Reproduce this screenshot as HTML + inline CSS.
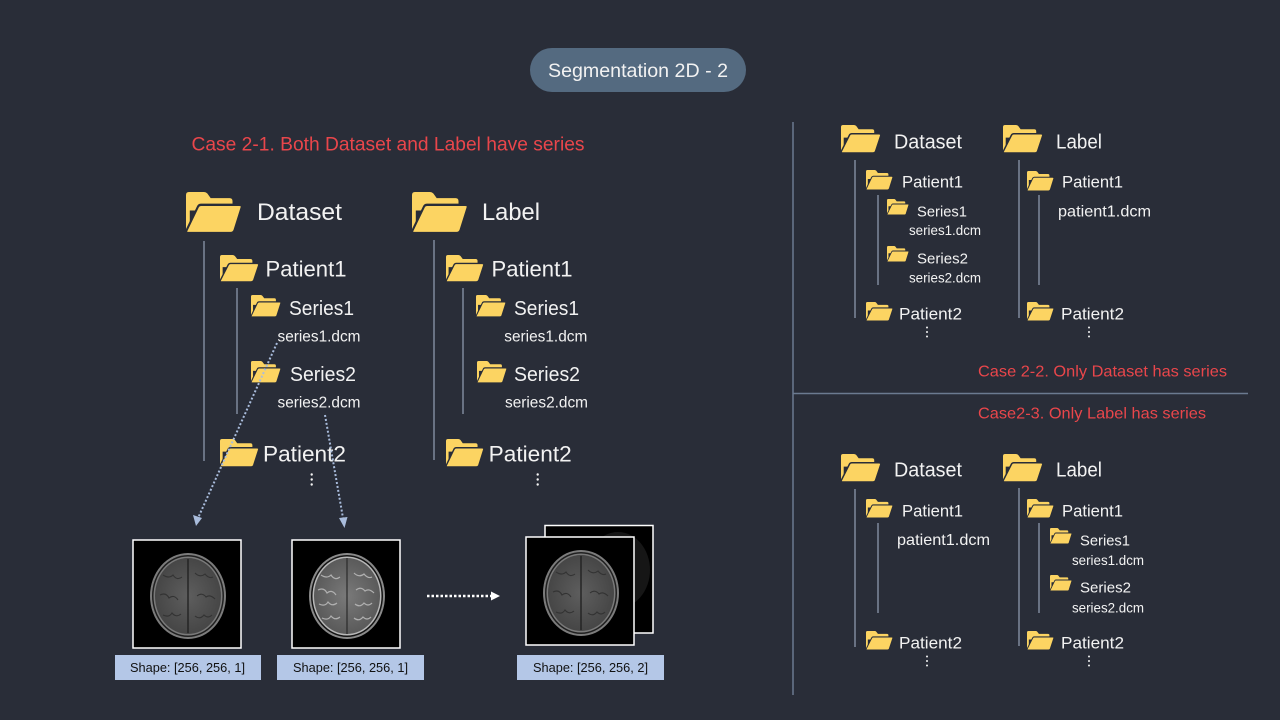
<!DOCTYPE html>
<html><head><meta charset="utf-8"><style>
html,body{margin:0;padding:0;background:#292d38;}
svg{display:block;}
text{font-family:"Liberation Sans","Noto Sans CJK KR",sans-serif;fill:#f2f2f2;}
.r{fill:#e9464b;}
.k{fill:#111;}
</style></head><body>
<svg width="1280" height="720" viewBox="0 0 1280 720" xmlns="http://www.w3.org/2000/svg">
<defs>
<symbol id="f" viewBox="0 0 59 40" preserveAspectRatio="none">
<path d="M3,0 H19 Q21,0 22.5,1.5 L26,6 H46 Q49,6 49,9 V18 H4 V40 H3 Q0,40 0,37 V3 Q0,0 3,0Z" fill="#fcd462"/>
<path d="M12.5,14.5 Q13.5,12.5 16,12.5 H56 Q59.5,12.5 58.5,15.5 L51,37.5 Q50,40 47,40 H2 Q-0.5,40 0.5,37.5 Z" fill="#fcd462" stroke="#292d38" stroke-width="2.2"/>
</symbol>
<radialGradient id="g1" cx="50%" cy="50%" r="50%">
<stop offset="0" stop-color="#5e5e5e"/><stop offset="1" stop-color="#464646"/>
</radialGradient>
<radialGradient id="g2" cx="50%" cy="50%" r="50%">
<stop offset="0" stop-color="#7a7a7a"/><stop offset="1" stop-color="#5a5a5a"/>
</radialGradient>
<g id="b1">
<rect x="0" y="0" width="108" height="108" fill="#000"/>
<ellipse cx="55" cy="56" rx="38" ry="43" fill="#7c7c7c"/>
<ellipse cx="55" cy="56" rx="36" ry="41" fill="#202020"/>
<ellipse cx="55" cy="56" rx="34.5" ry="39.5" fill="#7a7a7a"/>
<ellipse cx="55" cy="56" rx="33" ry="38" fill="url(#g1)"/>
<g stroke="#333" stroke-width="1.1" fill="none">
<path d="M30,35 q6,4 10,0 q4,6 9,2"/><path d="M62,33 q5,5 10,1 q4,5 8,3"/>
<path d="M27,55 q6,-3 9,3 q5,-4 9,2"/><path d="M64,56 q5,-4 9,1 q4,-3 9,2"/>
<path d="M30,75 q6,3 9,-2 q4,5 9,1"/><path d="M62,76 q5,4 9,-1 q4,4 8,0"/>
</g>
<line x1="55" y1="19" x2="55" y2="93" stroke="#1e1e1e" stroke-width="1.3"/>
</g>
<g id="b2">
<rect x="0" y="0" width="108" height="108" fill="#000"/>
<ellipse cx="55" cy="56" rx="38" ry="43" fill="#8a8a8a"/>
<ellipse cx="55" cy="56" rx="36" ry="41" fill="#141414"/>
<ellipse cx="55" cy="56" rx="34.5" ry="39.5" fill="#b8b8b8"/>
<ellipse cx="55" cy="56" rx="33" ry="38" fill="url(#g2)"/>
<g stroke="#b0b0b0" stroke-width="1.2" fill="none">
<path d="M29,35 q6,4 10,0 q4,6 9,2"/><path d="M62,33 q5,5 10,1 q4,5 8,3"/>
<path d="M26,50 q6,-3 9,3 q5,-4 9,2"/><path d="M64,50 q5,-4 9,1 q4,-3 9,2"/>
<path d="M27,64 q6,3 9,-2 q4,5 9,1"/><path d="M63,64 q5,4 9,-1 q4,4 8,0"/>
<path d="M30,78 q6,3 9,-2 q4,5 9,1"/><path d="M62,78 q5,4 9,-1 q4,4 8,0"/>
</g>
<line x1="55" y1="18" x2="55" y2="94" stroke="#2a2a2a" stroke-width="1.2"/>
</g>
</defs>

<!-- title pill -->
<rect x="530" y="48" width="216" height="44" rx="22" fill="#546a80"/>
<text x="548" y="77" font-size="19.5" textLength="180" lengthAdjust="spacingAndGlyphs">Segmentation 2D - 2</text>

<!-- dividers -->
<line x1="793" y1="122" x2="793" y2="695" stroke="#6b7a90" stroke-width="1.5"/>
<line x1="793" y1="393.5" x2="1248" y2="393.5" stroke="#6b7a90" stroke-width="1.5"/>

<!-- Case 2-1 -->
<text class="r" x="191.5" y="150.5" font-size="19" textLength="393" lengthAdjust="spacingAndGlyphs">Case 2-1. Both Dataset and Label have series</text>

<!-- left tree lines -->
<g stroke="#7f8a9c" stroke-width="1.5">
<line x1="204" y1="241" x2="204" y2="461"/>
<line x1="237" y1="288" x2="237" y2="414"/>
<line x1="434" y1="240" x2="434" y2="460"/>
<line x1="463" y1="288" x2="463" y2="414"/>
</g>

<!-- left folders -->
<use href="#f" x="186" y="192" width="56" height="41"/>
<use href="#f" x="412" y="192" width="56" height="41"/>
<use href="#f" x="220" y="255" width="39" height="27"/>
<use href="#f" x="251" y="295" width="30" height="22"/>
<use href="#f" x="251" y="361" width="30" height="22"/>
<use href="#f" x="220" y="439" width="39" height="28"/>
<use href="#f" x="446" y="255" width="38" height="27"/>
<use href="#f" x="476" y="295" width="30" height="22"/>
<use href="#f" x="477" y="361" width="30" height="22"/>
<use href="#f" x="446" y="439" width="38" height="28"/>

<!-- left texts -->
<text x="257" y="220" font-size="24.5" textLength="85" lengthAdjust="spacingAndGlyphs">Dataset</text>
<text x="482" y="220" font-size="24.5" textLength="58" lengthAdjust="spacingAndGlyphs">Label</text>
<text x="265.5" y="276.7" font-size="22" textLength="81" lengthAdjust="spacingAndGlyphs">Patient1</text>
<text x="491.5" y="276.7" font-size="22" textLength="81" lengthAdjust="spacingAndGlyphs">Patient1</text>
<text x="289" y="315" font-size="20" textLength="65" lengthAdjust="spacingAndGlyphs">Series1</text>
<text x="514" y="315" font-size="20" textLength="65" lengthAdjust="spacingAndGlyphs">Series1</text>
<text x="277.5" y="341.5" font-size="15.5" textLength="83" lengthAdjust="spacingAndGlyphs">series1.dcm</text>
<text x="504.3" y="341.5" font-size="15.5" textLength="83" lengthAdjust="spacingAndGlyphs">series1.dcm</text>
<text x="290" y="381" font-size="20" textLength="66" lengthAdjust="spacingAndGlyphs">Series2</text>
<text x="514" y="381" font-size="20" textLength="66" lengthAdjust="spacingAndGlyphs">Series2</text>
<text x="277.5" y="407.7" font-size="15.5" textLength="83" lengthAdjust="spacingAndGlyphs">series2.dcm</text>
<text x="505" y="407.7" font-size="15.5" textLength="83" lengthAdjust="spacingAndGlyphs">series2.dcm</text>
<text x="263" y="461.7" font-size="22" textLength="83" lengthAdjust="spacingAndGlyphs">Patient2</text>
<text x="488.7" y="461.7" font-size="22" textLength="83" lengthAdjust="spacingAndGlyphs">Patient2</text>

<!-- left dots -->
<g fill="#f2f2f2">
<circle cx="311.7" cy="474.5" r="1.2"/><circle cx="311.7" cy="479.5" r="1.2"/><circle cx="311.7" cy="484.5" r="1.2"/>
<circle cx="537.7" cy="474.5" r="1.2"/><circle cx="537.7" cy="479.5" r="1.2"/><circle cx="537.7" cy="484.5" r="1.2"/>
</g>

<!-- dotted arrows -->
<g stroke="#a9bcdc" stroke-width="2" stroke-dasharray="2 2" fill="none">
<line x1="277" y1="343" x2="198.5" y2="517"/>
<line x1="325" y1="415" x2="343" y2="518"/>
</g>
<g fill="#a9bcdc">
<polygon points="196,526 193,515 202,518"/>
<polygon points="344.5,528 339,518 347.5,517"/>
</g>
<line x1="427" y1="596" x2="492" y2="596" stroke="#ffffff" stroke-width="2.5" stroke-dasharray="2.5 2"/>
<polygon points="500,596 491,591.5 491,600.5" fill="#ffffff"/>

<!-- images -->
<use href="#b1" x="133" y="540"/>
<rect x="133" y="540" width="108" height="108" fill="none" stroke="#fff" stroke-width="1.5"/>
<use href="#b2" x="292" y="540"/>
<rect x="292" y="540" width="108" height="108" fill="none" stroke="#fff" stroke-width="1.5"/>
<rect x="545" y="525.5" width="108" height="107.5" fill="#000" stroke="#fff" stroke-width="1.5"/>
<ellipse cx="618" cy="570" rx="32" ry="38" fill="#161616"/>
<use href="#b1" x="526" y="537"/>
<rect x="526" y="537" width="108" height="108" fill="none" stroke="#fff" stroke-width="1.5"/>

<!-- shape labels -->
<rect x="115" y="655" width="146" height="25" fill="#b4c7e7"/>
<rect x="277" y="655" width="147" height="25" fill="#b4c7e7"/>
<rect x="517" y="655" width="147" height="25" fill="#b4c7e7"/>
<text class="k" x="130" y="672" font-size="12.5" textLength="115" lengthAdjust="spacingAndGlyphs">Shape: [256, 256, 1]</text>
<text class="k" x="293" y="672" font-size="12.5" textLength="115" lengthAdjust="spacingAndGlyphs">Shape: [256, 256, 1]</text>
<text class="k" x="533" y="672" font-size="12.5" textLength="115" lengthAdjust="spacingAndGlyphs">Shape: [256, 256, 2]</text>

<!-- right trees lines -->
<g stroke="#7f8a9c" stroke-width="1.5">
<line x1="855" y1="160" x2="855" y2="318"/>
<line x1="878" y1="195" x2="878" y2="285"/>
<line x1="1019" y1="160" x2="1019" y2="318"/>
<line x1="1039" y1="195" x2="1039" y2="285"/>
<line x1="855" y1="489" x2="855" y2="647"/>
<line x1="878" y1="523" x2="878" y2="613"/>
<line x1="1019" y1="488" x2="1019" y2="646"/>
<line x1="1039" y1="523" x2="1039" y2="613"/>
</g>
<use href="#f" x="841" y="125" width="40" height="28"/>
<use href="#f" x="1003" y="125" width="40" height="28"/>
<use href="#f" x="866" y="170" width="27" height="20"/>
<use href="#f" x="1027" y="171" width="27" height="20"/>
<use href="#f" x="887" y="199" width="22" height="16"/>
<use href="#f" x="887" y="246" width="22" height="16"/>
<use href="#f" x="866" y="302" width="27" height="19"/>
<use href="#f" x="1027" y="302" width="27" height="19"/>

<text x="894" y="148.3" font-size="20.5" textLength="68" lengthAdjust="spacingAndGlyphs">Dataset</text>
<text x="1056" y="148.3" font-size="20.5" textLength="46" lengthAdjust="spacingAndGlyphs">Label</text>
<text x="902" y="187.3" font-size="16.5" textLength="61" lengthAdjust="spacingAndGlyphs">Patient1</text>
<text x="1062" y="187.3" font-size="16.5" textLength="61" lengthAdjust="spacingAndGlyphs">Patient1</text>
<text x="917" y="216.7" font-size="15" textLength="50" lengthAdjust="spacingAndGlyphs">Series1</text>
<text x="909" y="235" font-size="13.5" textLength="72" lengthAdjust="spacingAndGlyphs">series1.dcm</text>
<text x="917" y="263.3" font-size="15" textLength="51" lengthAdjust="spacingAndGlyphs">Series2</text>
<text x="909" y="282.3" font-size="13.5" textLength="72" lengthAdjust="spacingAndGlyphs">series2.dcm</text>
<text x="899" y="319.3" font-size="16.5" textLength="63" lengthAdjust="spacingAndGlyphs">Patient2</text>
<text x="1061" y="319.3" font-size="16.5" textLength="63" lengthAdjust="spacingAndGlyphs">Patient2</text>
<text x="1058" y="216.7" font-size="16" textLength="93" lengthAdjust="spacingAndGlyphs">patient1.dcm</text>
<g fill="#f2f2f2">
<circle cx="927" cy="327.5" r="1"/><circle cx="927" cy="332" r="1"/><circle cx="927" cy="336.5" r="1"/>
<circle cx="1089" cy="327.5" r="1"/><circle cx="1089" cy="332" r="1"/><circle cx="1089" cy="336.5" r="1"/>
</g>

<text class="r" x="978" y="376.7" font-size="16" textLength="249" lengthAdjust="spacingAndGlyphs">Case 2-2. Only Dataset has series</text>
<text class="r" x="978" y="418.3" font-size="16" textLength="228" lengthAdjust="spacingAndGlyphs">Case2-3. Only Label has series</text>

<!-- right bottom tree -->
<use href="#f" x="841" y="454" width="40" height="28"/>
<use href="#f" x="1003" y="454" width="40" height="28"/>
<use href="#f" x="866" y="499" width="27" height="19"/>
<use href="#f" x="1027" y="499" width="27" height="19"/>
<use href="#f" x="1050" y="528" width="22" height="16"/>
<use href="#f" x="1050" y="575" width="22" height="16"/>
<use href="#f" x="866" y="631" width="27" height="19"/>
<use href="#f" x="1027" y="631" width="27" height="19"/>

<text x="894" y="476.5" font-size="20.5" textLength="68" lengthAdjust="spacingAndGlyphs">Dataset</text>
<text x="1056" y="476.5" font-size="20.5" textLength="46" lengthAdjust="spacingAndGlyphs">Label</text>
<text x="902" y="516.3" font-size="16.5" textLength="61" lengthAdjust="spacingAndGlyphs">Patient1</text>
<text x="1062" y="516.3" font-size="16.5" textLength="61" lengthAdjust="spacingAndGlyphs">Patient1</text>
<text x="897" y="545" font-size="16" textLength="93" lengthAdjust="spacingAndGlyphs">patient1.dcm</text>
<text x="1080" y="545.7" font-size="15" textLength="50" lengthAdjust="spacingAndGlyphs">Series1</text>
<text x="1072" y="565" font-size="13.5" textLength="72" lengthAdjust="spacingAndGlyphs">series1.dcm</text>
<text x="1080" y="592.3" font-size="15" textLength="51" lengthAdjust="spacingAndGlyphs">Series2</text>
<text x="1072" y="612.3" font-size="13.5" textLength="72" lengthAdjust="spacingAndGlyphs">series2.dcm</text>
<text x="899" y="648.3" font-size="16.5" textLength="63" lengthAdjust="spacingAndGlyphs">Patient2</text>
<text x="1061" y="648.3" font-size="16.5" textLength="63" lengthAdjust="spacingAndGlyphs">Patient2</text>
<g fill="#f2f2f2">
<circle cx="927" cy="656.5" r="1"/><circle cx="927" cy="661" r="1"/><circle cx="927" cy="665.5" r="1"/>
<circle cx="1089" cy="656.5" r="1"/><circle cx="1089" cy="661" r="1"/><circle cx="1089" cy="665.5" r="1"/>
</g>
</svg>
</body></html>
